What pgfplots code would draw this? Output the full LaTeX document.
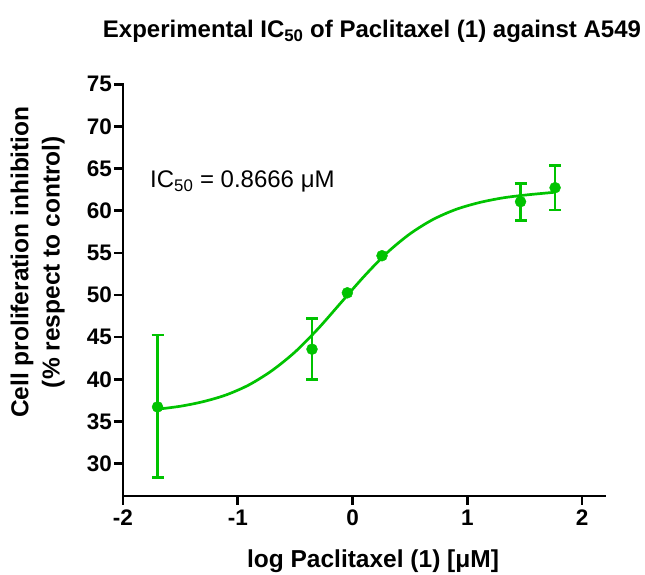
\documentclass[border=0pt]{standalone}
\usepackage{fontspec}
\setmainfont{Liberation Sans}
\usepackage{pgfplots}
\usepackage{pgfplotstable}
\pgfplotsset{compat=1.18}
\definecolor{pgreen}{RGB}{0,195,0}
\pgfplotstableread{
x y ep em
-1.699 36.72 8.52 8.38
-0.353 43.57 3.65 3.59
1.464 61.07 2.18 2.21
1.765 62.73 2.66 2.65
}\errdata
\pgfplotstableread{
x y
-0.045 50.26
0.257 54.66
}\plaindata
\pgfplotstableread{
x y
-1.70 36.45
-1.50 36.80
-1.30 37.35
-1.10 38.15
-0.90 39.35
-0.70 41.05
-0.50 43.25
-0.30 46.00
-0.10 49.10
0.10 52.20
0.30 55.00
0.50 57.25
0.70 58.95
0.90 60.15
1.10 60.95
1.30 61.50
1.50 61.85
1.77 62.20
}\curvedata
\begin{document}
\begin{tikzpicture}
\useasboundingbox (-123pt,-79pt) rectangle (522pt,496pt);
\begin{axis}[
  at={(0,0)}, anchor=south west,
  scale only axis, width=482pt, height=411.7pt,
  xmin=-2, xmax=2.2, ymin=26.15, ymax=75,
  axis x line*=bottom, axis y line*=left,
  axis line style={line width=2.7pt, -, line cap=rect},
  xtick={-2,-1,0,1,2}, xticklabels={-2,-1,0,1,2},
  ytick={30,35,...,75}, yticklabels={30,35,40,45,50,55,60,65,70,75},
  tick align=outside, major tick length=9pt,
  tick style={black, line width=2.7pt},
  tick label style={font=\fontsize{22.5}{22.5}\selectfont\bfseries},
  xticklabel style={inner ysep=0pt, yshift=-5pt},
  yticklabel style={inner xsep=0pt, xshift=-2pt},
  xlabel={log Paclitaxel (1) [μM]},
  xlabel style={font=\fontsize{24.5}{24.5}\selectfont\bfseries, at={(axis description cs:0.5187,-0.1732)}, anchor=base, inner sep=0pt},
  ylabel={Cell proliferation inhibition\\(\% respect to control)},
  ylabel style={font=\fontsize{24.5}{31.4}\selectfont\bfseries, align=center, at={(axis description cs:-0.1203,0.568)}, anchor=south, inner sep=0pt},
  clip=false,
]
\addplot[pgreen, line width=2.7pt, smooth, no marks] table[x=x, y=y] {\curvedata};
\addplot[pgreen, only marks, mark=*, mark size=5.5pt,
  error bars/.cd, y dir=both, y explicit, error mark=-,
  error bar style={line width=2.7pt, pgreen},
  error mark options={rotate=90, line width=2.7pt, mark size=6pt, pgreen}]
  table[x=x, y=y, y error plus=ep, y error minus=em] {\errdata};
\addplot[pgreen, only marks, mark=*, mark size=5.5pt] table[x=x, y=y] {\plaindata};
\node[anchor=base west, inner sep=0pt, font=\fontsize{24}{24}\selectfont] at (axis cs:-1.765,62.7) {IC\textsubscript{50} = 0.8666 μM};
\node[anchor=base, inner sep=0pt, font=\fontsize{24}{24}\selectfont\bfseries] at (axis description cs:0.5166,1.1125) {Experimental IC\textsubscript{50} of Paclitaxel (1) against A549};
\end{axis}
\end{tikzpicture}
\end{document}
